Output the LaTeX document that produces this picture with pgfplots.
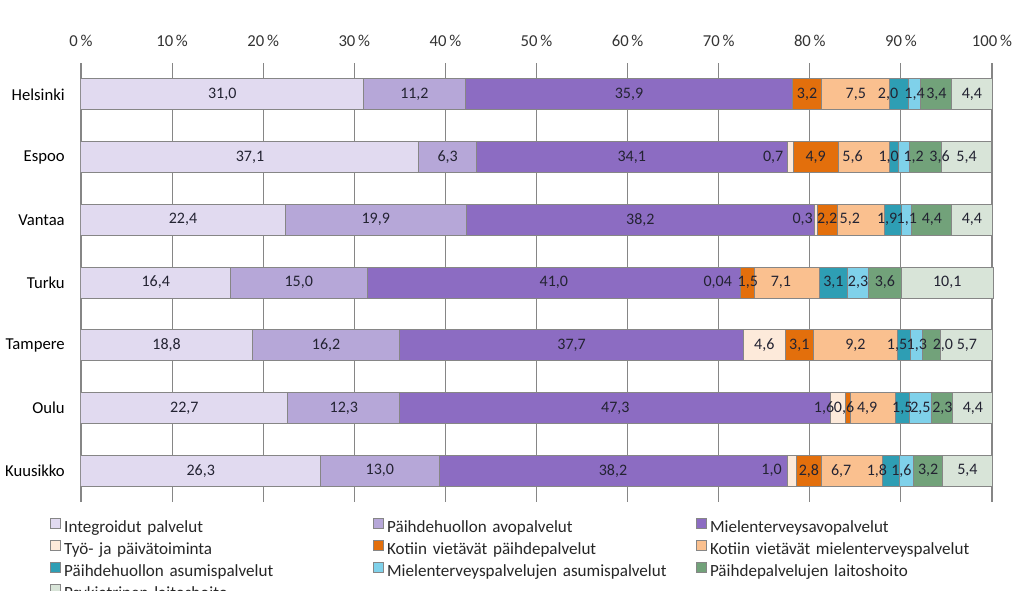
\documentclass[border=0pt]{standalone}
\usepackage{pgfplots}
\pgfplotsset{compat=1.18}
\usepackage{pgfplotstable}
\usepackage{fontspec}
\setmainfont{Carlito}

\definecolor{cA}{RGB}{225,218,240}
\definecolor{cB}{RGB}{182,167,216}
\definecolor{cC}{RGB}{140,108,194}
\definecolor{cD}{RGB}{253,234,218}
\definecolor{cE}{RGB}{227,111,12}
\definecolor{cF}{RGB}{250,192,143}
\definecolor{cG}{RGB}{46,158,180}
\definecolor{cH}{RGB}{127,209,234}
\definecolor{cI}{RGB}{114,162,122}
\definecolor{cJ}{RGB}{216,228,216}
\definecolor{gridgray}{RGB}{134,134,134}
\definecolor{labcol}{RGB}{35,35,50}

% y: 0 = Helsinki ... 6 = Kuusikko; dd ... di = label offsets (pt) as placed in the original
\pgfplotstableread{
y a b c d e f g h i j la lb lc ld le lf lg lh li lj dd de df dg dh di
0 31.0 11.2 35.9 0    3.2 7.5 2.0 1.4 3.4 4.4  31,0 11,2 35,9 {}   3,2 7,5 2,0 1,4 3,4 4,4   0      0    0     -8.25  0     0
1 37.1 6.3  34.1 0.7  4.9 5.6 1.0 1.2 3.6 5.4  37,1 6,3  34,1 0,7  4,9 5,6 1,0 1,2 3,6 5,4   -12.75 0    -8.25 -3.75  7.5   10.5
2 22.4 19.9 38.2 0.3  2.2 5.2 1.9 1.1 4.4 4.4  22,4 19,9 38,2 0,3  2,2 5,2 1,9 1,1 4,4 4,4   -9.75  0    -8.25 -4.5   0     0
3 16.4 15.0 41.0 0.04 1.5 7.1 3.1 2.3 3.6 10.1 16,4 15,0 41,0 0,04 1,5 7,1 3,1 2,3 3,6 10,1  -17.25 0    -4.5   0     0     0
4 18.8 16.2 37.7 4.6  3.1 9.2 1.5 1.3 2.0 5.7  18,8 16,2 37,7 4,6  3,1 9,2 1,5 1,3 2,0 5,7   0      0    0     -5.25  0     8.25
5 22.7 12.3 47.3 1.6  0.6 4.9 1.5 2.5 2.3 4.4  22,7 12,3 47,3 1,6  0,6 4,9 1,5 2,5 2,3 4,4   -10.5  -3   -4.5   0     0     0
6 26.3 13.0 38.2 1.0  2.8 6.7 1.8 1.6 3.2 5.4  26,3 13,0 38,2 1,0  2,8 6,7 1,8 1,6 3,2 5,4   -15    0    -8.25 -10.5 -3.75  0
}\data

\pgfplotsset{
  shiftlab/.style={visualization depends on={\thisrow{#1} \as \dx},
    every node near coord/.append style={xshift=\dx pt}},
}

\begin{document}
\begin{tikzpicture}
\begin{axis}[
  at={(0,0)}, anchor=south west,
  scale only axis,
  width=684.6165pt, height=329.25pt,
  xbar stacked,
  bar width=23.25pt,
  xmin=0, xmax=100.2,
  ymin=-0.5, ymax=6.5,
  y dir=reverse,
  xtick={0,10,...,100},
  xticklabels={0\,\%,10\,\%,20\,\%,30\,\%,40\,\%,50\,\%,60\,\%,70\,\%,80\,\%,90\,\%,100\,\%},
  xticklabel pos=upper,
  ytick={0,...,6},
  yticklabels={Helsinki,Espoo,Vantaa,Turku,Tampere,Oulu,Kuusikko},
  axis line style={draw=none},
  major tick length=0pt,
  tick style={draw=none},
  xmajorgrids,
  grid style={gridgray, line width=0.8pt},
  xticklabel style={font=\fontsize{12.5}{14}\selectfont, text=black!80, inner sep=0pt, yshift=12pt},
  yticklabel style={font=\fontsize{12.5}{14}\selectfont, text=black, inner sep=0pt, xshift=-12pt},
  every axis plot/.append style={draw=gridgray, line width=0.75pt},
  point meta=explicit symbolic,
  nodes near coords,
  every node near coord/.append style={anchor=center, inner sep=0pt,
    font=\fontsize{12}{14}\selectfont, text=labcol},
  legend columns=3,
  legend cell align=left,
  legend image code/.code={\draw[#1, draw=gridgray, line width=0.6pt] (0pt,-0.25pt) rectangle (7.75pt,7.5pt); \path (10pt,0pt);},
  legend style={at={(axis description cs:0,0)}, anchor=north west,
    xshift=-23.25pt, yshift=-12pt,
    draw=none, fill=none, inner sep=0pt, outer sep=0pt,
    row sep=2.6pt, column sep=0pt,
    nodes={inner sep=0pt, text width=231.5pt, text height=9pt, text depth=3pt,
      font=\fontsize{12.8}{15}\selectfont, text=black!85}},
]
\addplot[fill=cA] table[x=a, y=y, meta=la] {\data};
\addplot[fill=cB] table[x=b, y=y, meta=lb] {\data};
\addplot[fill=cC] table[x=c, y=y, meta=lc] {\data};
\addplot[fill=cD, shiftlab=dd] table[x=d, y=y, meta=ld] {\data};
\addplot[fill=cE, shiftlab=de] table[x=e, y=y, meta=le] {\data};
\addplot[fill=cF, shiftlab=df] table[x=f, y=y, meta=lf] {\data};
\addplot[fill=cG, shiftlab=dg] table[x=g, y=y, meta=lg] {\data};
\addplot[fill=cH, shiftlab=dh] table[x=h, y=y, meta=lh] {\data};
\addplot[fill=cI, shiftlab=di] table[x=i, y=y, meta=li] {\data};
\addplot[fill=cJ] table[x=j, y=y, meta=lj] {\data};
\legend{Integroidut palvelut, Päihdehuollon avopalvelut, Mielenterveysavopalvelut,
  Työ- ja päivätoiminta, Kotiin vietävät päihdepalvelut, Kotiin vietävät mielenterveyspalvelut,
  Päihdehuollon asumispalvelut, Mielenterveyspalvelujen asumispalvelut, Päihdepalvelujen laitoshoito,
  Psykiatrinen laitoshoito}
\end{axis}
\pgfresetboundingbox
\useasboundingbox (-60.75pt,-66.75pt) rectangle (707.25pt,376.5pt);
\end{tikzpicture}
\end{document}
